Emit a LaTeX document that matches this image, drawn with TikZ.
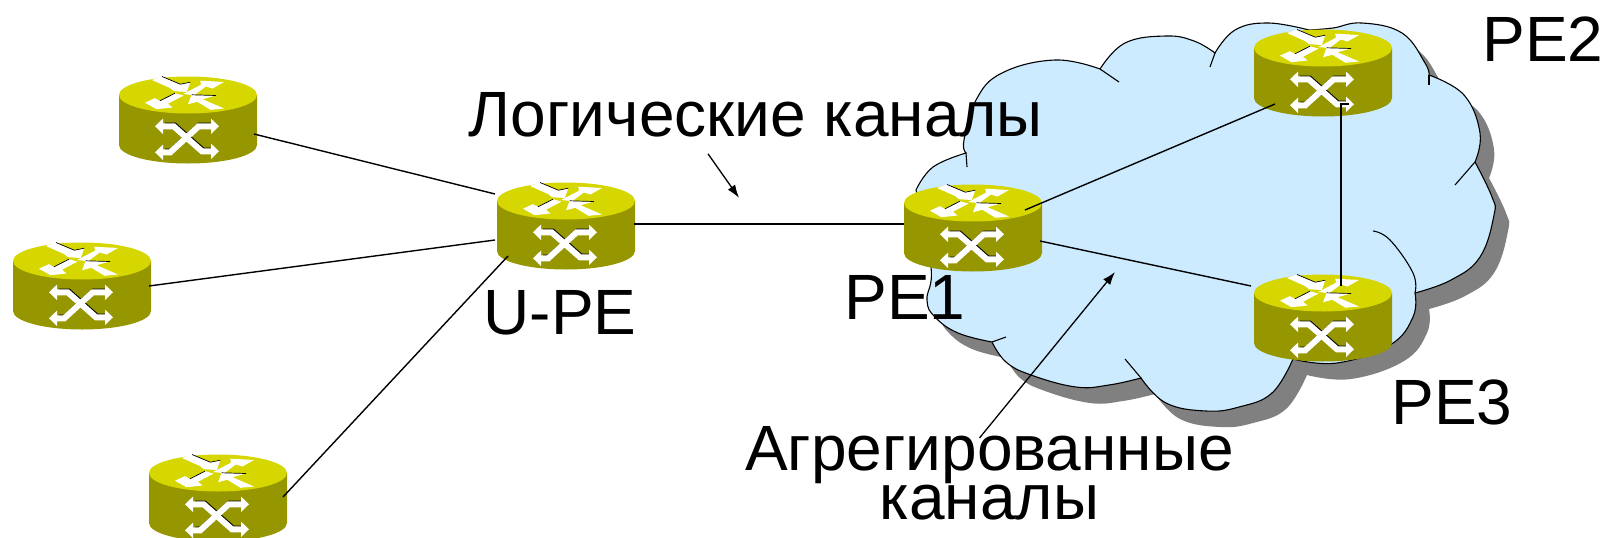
\documentclass[tikz,border=0pt]{standalone}
\usepackage{fontspec}
\setmainfont{Liberation Sans}
\usetikzlibrary{arrows.meta,calc}
\definecolor{rtop}{HTML}{D6D600}
\definecolor{rside}{HTML}{969600}
\definecolor{cloudfill}{HTML}{CCEBFF}
\definecolor{cloudshadow}{HTML}{808080}
\newcommand{\cloudshape}{
  plot[smooth,tension=.7] coordinates {(916,190)(933,167)(966,153)}
  -- plot[smooth,tension=.7] coordinates {(966,153)(964,140)(976,100)(1002,73)(1055,60)(1100,69)}
  -- plot[smooth,tension=.7] coordinates {(1100,69)(1125,43)(1166,36)(1194,41)(1215,53)}
  -- plot[smooth,tension=.7] coordinates {(1215,53)(1235,30)(1268,23)(1309,30)}
  -- plot[smooth,tension=.7] coordinates {(1309,30)(1333,28)(1362,23)(1402,33)(1425,63)(1429,75)}
  -- plot[smooth,tension=.7] coordinates {(1429,75)(1464,95)(1480,133)(1475,162)}
  -- plot[smooth,tension=.7] coordinates {(1475,162)(1492,197)(1494,215)(1480,257)(1451,280)(1415,293)}
  -- plot[smooth,tension=.7] coordinates {(1415,293)(1413,317)(1390,345)(1337,363)(1293,359)}
  -- plot[smooth,tension=.7] coordinates {(1293,359)(1272,393)(1239,407)(1206,411)(1166,403)(1141,378)}
  -- plot[smooth,tension=.7] coordinates {(1141,378)(1109,385)(1076,387)(1031,375)(1006,362)(992,342)}
  -- plot[smooth,tension=.7] coordinates {(992,342)(958,333)(935,317)(927,300)(931,267)(916,190)}
  -- cycle}
\tikzset{
  x=1pt,y=-1pt,
  routerbox/.style={minimum width=138pt,minimum height=86pt,inner sep=0pt,outer sep=0pt},
  link/.style={draw=black,line width=1.4pt},
  thin cloud/.style={draw=black,line width=1.1pt},
  pointer/.style={draw=black,line width=1.3pt,-{Latex[length=13pt,width=9pt]}},
  label/.style={font=\fontsize{64}{64}\selectfont,anchor=base,inner sep=0pt,text=black},
  xarrow/.style={line width=6pt,white,{Triangle[length=8pt,width=15pt]}-{Triangle[length=8pt,width=15pt]}},
  xshade/.style={line width=5.5pt,black},
  topedge/.style={line width=.7pt,black},
  router/.pic={
    \fill[rside] (-69,-25) -- (-69,25) arc[start angle=180,end angle=360,x radius=69,y radius=-18.5] -- (69,-25) -- cycle;
    \fill[rtop] (0,-25) ellipse[x radius=69,y radius=18.5];
    \fill[white] (-36,-40) -- (-26,-43.5) -- (-7.7,-35.8) -- (2.3,-37.8) -- (-1.2,-28) -- (-14,-28.8) -- (-18,-32) -- cycle;
    \fill[white] (12.3,-39.3) -- (36,-38) -- (24.5,-31.5) -- (17.8,-33.5) -- (6.2,-24.8) -- (-4.8,-26) -- (13,-35.3) -- cycle;
    \fill[white] (-43,-17.3) -- (-31.5,-10.8) -- (-15.5,-12.5) -- (-20,-16.3) -- (-4.5,-24.4) -- (-13,-26.8) -- (-28,-19.2) -- (-33.2,-21.8) -- cycle;
    \fill[white] (36,-11.5) -- (22.5,-10.2) -- (9.4,-18.2) -- (0,-15.8) -- (3.6,-25.2) -- (28,-24.5) -- (14.5,-20.8) -- cycle;
    \draw[topedge] (-26,-43.5) -- (-7.7,-35.8) -- (2.3,-37.8);
    \draw[topedge] (-28,-19.2) -- (-13,-26.8);
    \draw[topedge] (3.6,-25.2) -- (28,-24.5);
    \begin{scope}[shift={(.8pt,1pt)}]
      \draw[xshade] (-24,6.3) -- (-14.3,6.3) -- (14,31.3) -- (23,31.3);
      \draw[xshade] (-24,32.3) -- (-17.7,32.3) -- (10.7,6.3) -- (23,6.3);
    \end{scope}
    \draw[xarrow] (-33,6.3) -- (-14.3,6.3) -- (14,31.3) -- (31,31.3);
    \draw[xarrow] (-33,32.3) -- (-17.7,32.3) -- (10.7,6.3) -- (31,6.3);
  }
}
\begin{document}
\begin{tikzpicture}
\useasboundingbox (0,0) rectangle (1604,538);
\clip (0,0) rectangle (1604,538);
% cloud
\fill[cloudshadow,shift={(14pt,-16pt)}] \cloudshape;
\fill[cloudfill] \cloudshape;
\draw[thin cloud] \cloudshape;
\draw[thin cloud] plot[smooth,tension=.7] coordinates {(966,153)(967,167)};
\draw[thin cloud] plot[smooth,tension=.7] coordinates {(1100,69)(1119,82)};
\draw[thin cloud] plot[smooth,tension=.7] coordinates {(1215,53)(1210,67)};
\draw[thin cloud] plot[smooth,tension=.7] coordinates {(1429,75)(1429,85)};
\draw[thin cloud] plot[smooth,tension=.7] coordinates {(1475,162)(1455,185)};
\draw[thin cloud] plot[smooth,tension=.7] coordinates {(1415,293)(1413,273)(1390,240)(1373,231)};
\draw[thin cloud] plot[smooth,tension=.7] coordinates {(1141,378)(1125,359)};
\draw[thin cloud] plot[smooth,tension=.7] coordinates {(992,342)(1006,337)};
% routers
\node[routerbox] (r1) at (188,120) {};
\node[routerbox] (r2) at (82,286) {};
\node[routerbox] (r3) at (218,498) {};
\node[routerbox] (upe) at (566,226) {};
\node[routerbox] (pe1) at (973,228) {};
\node[routerbox] (pe2) at (1323,73) {};
\node[routerbox] (pe3) at (1323,318) {};
\pic at (r1) {router};
\pic at (r2) {router};
\pic at (r3) {router};
\pic at (upe) {router};
\pic at (pe1) {router};
\pic at (pe2) {router};
\pic at (pe3) {router};
% connectors
\draw[link] ($(r1)+(66,14)$) -- ($(upe)+(-71,-32)$);
\draw[link] ($(r2)+(67,0)$) -- ($(upe)+(-71,14)$);
\draw[link] ($(r3)+(65,-1)$) -- ($(upe)+(-58,30)$);
\draw[link] ($(upe)+(68,-2)$) -- ($(pe1)+(-69,-4)$);
\draw[link] ($(pe1)+(52,-18)$) -- ($(pe2)+(-48,31)$);
\draw[link] ($(pe1)+(67,13)$) -- ($(pe3)+(-72,-32)$);
\draw[link] ($(pe2)+(26,31)$) -- ($(pe2)+(18,31)$) -- ($(pe3)+(18,-32)$);
% texts
\node[label] (t1) at (756,136) {Логические каналы};
\node[label] (t2) at (560,334) {U-PE};
\node[label] (t3) at (905,319) {PE1};
\node[label] (t4) at (1543,61) {PE2};
\node[label] (t5) at (1452,424) {PE3};
\node[label,anchor=center,align=center,font=\fontsize{64}{49}\selectfont] (t6) at (989.5,473) {Агрегированные\\каналы};
\coordinate (p1) at ($(t1.south)+(-48,17)$);
\coordinate (p2) at ($(p1)+(31,44)$);
\coordinate (p3) at ($(t6.north)+(-10,12)$);
\draw[pointer] (p1) -- (p2);
\draw[pointer] (p3) -- ($(pe1)+(142,44)$);
\end{tikzpicture}
\end{document}
